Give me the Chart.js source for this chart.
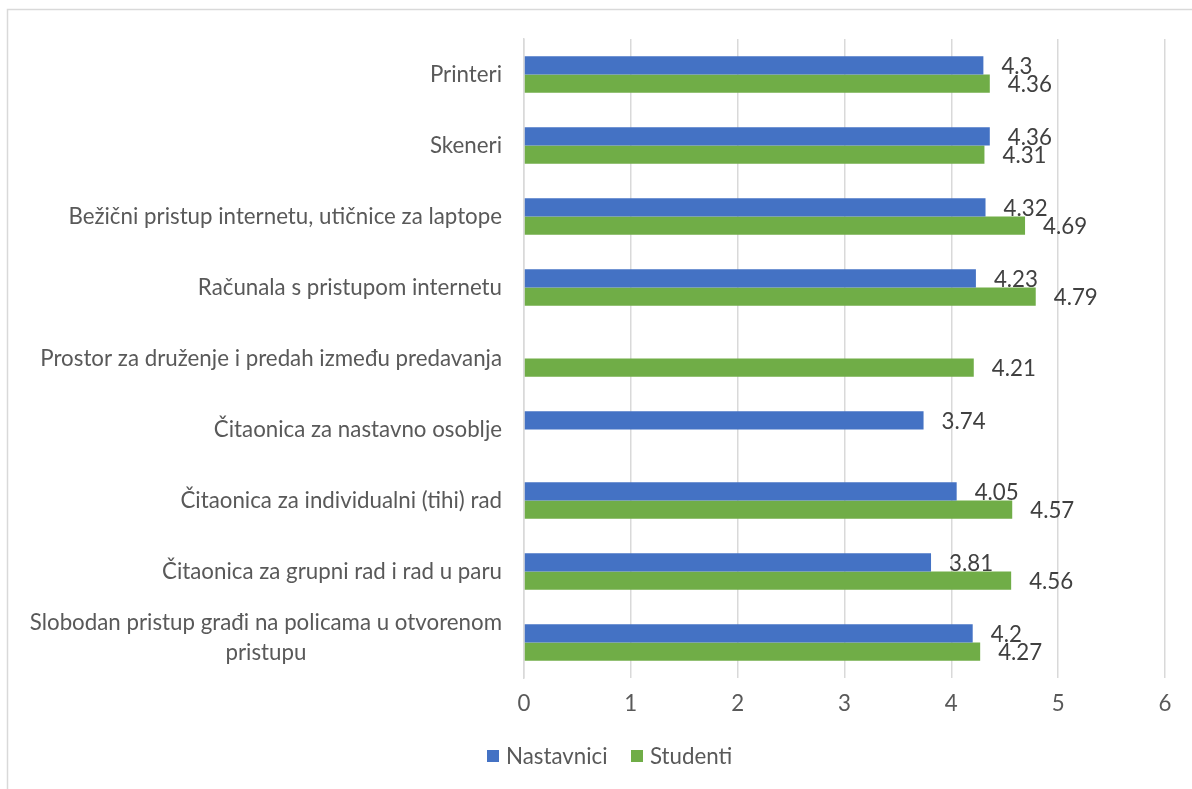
<!DOCTYPE html>
<html>
<head>
<meta charset="utf-8">
<script src="https://cdn.jsdelivr.net/npm/chart.js@4.4.0/dist/chart.umd.min.js"></script>
<style>
html,body{margin:0;padding:0;background:#fff;}
#wrap{position:relative;width:1192px;height:789px;}
</style>
</head>
<body>
<div id="wrap"><canvas id="c" width="1192" height="789"></canvas></div>
<script>
const categories = [
  "Printeri",
  "Skeneri",
  "Bežični pristup internetu, utičnice za laptope",
  "Računala s pristupom internetu",
  "Prostor za druženje i predah između predavanja",
  "Čitaonica za nastavno osoblje",
  "Čitaonica za individualni (tihi) rad",
  "Čitaonica za grupni rad i rad u paru",
  ["Slobodan pristup građi na policama u otvorenom", "pristupu"]
];
const nastavnici = [4.3, 4.36, 4.32, 4.23, null, 3.74, 4.05, 3.81, 4.2];
const studenti   = [4.36, 4.31, 4.69, 4.79, 4.21, null, 4.57, 4.56, 4.27];
const seriesNames = ["Nastavnici", "Studenti"];
const xTicks = [0, 1, 2, 3, 4, 5, 6];

const FONT = "Lato, 'Open Sans', sans-serif";
const FS = 22.3;
const TXT = "#595959";

const customDraw = {
  id: "customDraw",
  afterDraw(chart) {
    const ctx = chart.ctx;
    const ys = chart.scales.y;
    const area = chart.chartArea;
    ctx.save();
    // outer border
    ctx.strokeStyle = "#d9d9d9";
    ctx.lineWidth = 1.5;
    ctx.strokeRect(7.5, 9.5, 1200, 800);
    // category labels
    ctx.font = FS + "px " + FONT;
    ctx.fillStyle = TXT;
    ctx.textBaseline = "middle";
    const rightX = area.left - 22;
    categories.forEach((lab, i) => {
      const y = ys.getPixelForTick(i);
      if (Array.isArray(lab)) {
        const maxW = Math.max(...lab.map(l => ctx.measureText(l).width));
        const cx = rightX - maxW / 2;
        ctx.textAlign = "center";
        ctx.fillText(lab[0], cx, y - 20);
        ctx.fillText(lab[1], cx, y + 10);
      } else {
        ctx.textAlign = "right";
        ctx.fillText(lab, rightX, y);
      }
    });
    // data labels
    ctx.fillStyle = "#404040";
    ctx.textAlign = "left";
    chart.data.datasets.forEach((ds, di) => {
      const meta = chart.getDatasetMeta(di);
      meta.data.forEach((bar, i) => {
        const v = ds.data[i];
        if (v === null || v === undefined) return;
        ctx.fillText(String(v), bar.x + 18, bar.y + 1);
      });
    });
    // legend
    const ly = 756;
    const items = [
      {x: 487, color: "#4472c4", text: seriesNames[0]},
      {x: 631, color: "#70ad47", text: seriesNames[1]}
    ];
    items.forEach(it => {
      ctx.fillStyle = it.color;
      ctx.fillRect(it.x, ly - 6, 12, 12);
      ctx.fillStyle = TXT;
      ctx.textAlign = "left";
      ctx.fillText(it.text, it.x + 19, ly + 1);
    });
    ctx.restore();
  }
};

new Chart(document.getElementById("c"), {
  type: "bar",
  data: {
    labels: categories,
    datasets: [
      {label: seriesNames[0], data: nastavnici, backgroundColor: "#4472c4"},
      {label: seriesNames[1], data: studenti, backgroundColor: "#70ad47"}
    ]
  },
  options: {
    indexAxis: "y",
    responsive: false,
    animation: false,
    layout: {padding: {left: 0, right: 27, top: 39, bottom: 0}},
    datasets: {bar: {categoryPercentage: 0.516, barPercentage: 1.0}},
    plugins: {legend: {display: false}, tooltip: {enabled: false}},
    scales: {
      x: {
        min: 0, max: 6,
        afterBuildTicks(scale) { scale.ticks = xTicks.map(v => ({value: v})); },
        afterFit(scale) { scale.height = 111; },
        grid: {color: "#d9d9d9", lineWidth: 1.5, drawTicks: false},
        border: {display: false},
        ticks: {color: TXT, font: {family: FONT, size: FS}, padding: 12}
      },
      y: {
        afterFit(scale) { scale.width = 524; },
        grid: {display: false, drawTicks: false},
        border: {display: true, color: "#d9d9d9", width: 1.5},
        ticks: {display: false}
      }
    }
  },
  plugins: [customDraw]
});
</script>
</body>
</html>
